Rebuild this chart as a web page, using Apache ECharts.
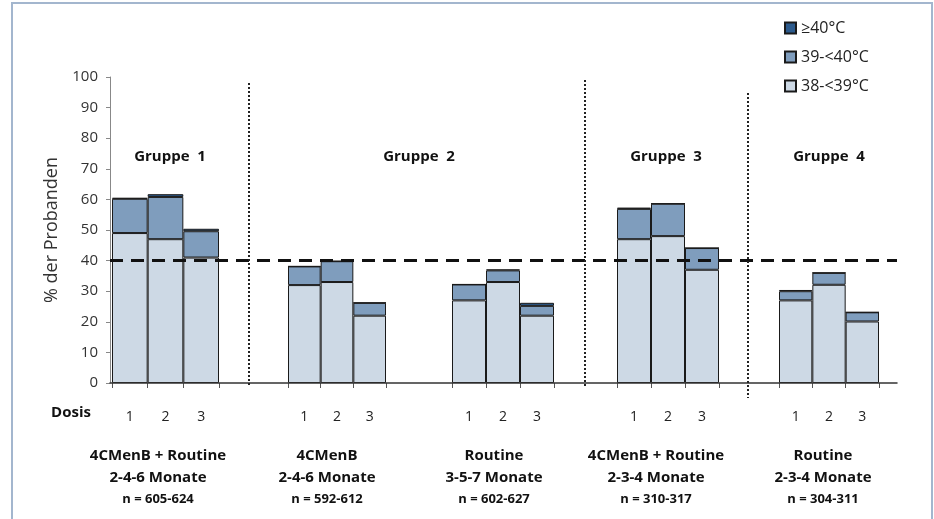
<!DOCTYPE html>
<html>
<head>
<meta charset="utf-8">
<script src="https://cdn.jsdelivr.net/npm/echarts@6/dist/echarts.min.js"></script>
<style>html,body{margin:0;padding:0;background:#fff}#c{width:934px;height:519px}</style>
</head>
<body>
<div id="c"></div>
<script>
// ---- data ----
const doses = ['1', '2', '3'];
const groupTitles = ['Gruppe  1', 'Gruppe  2', 'Gruppe  3', 'Gruppe  4'];
const armLine1 = ['4CMenB + Routine', '4CMenB', 'Routine', '4CMenB + Routine', 'Routine'];
const armLine2 = ['2-4-6 Monate', '2-4-6 Monate', '3-5-7 Monate', '2-3-4 Monate', '2-3-4 Monate'];
const armLine3 = ['n = 605-624', 'n = 592-612', 'n = 602-627', 'n = 310-317', 'n = 304-311'];
const seriesNames = ['38-<39°C', '39-<40°C', '≥40°C'];
const low  = [[49, 47, 41], [32, 33, 22], [27, 33, 22], [47, 48, 37], [27, 32.1, 20.1]];
const mid  = [[11.2, 13.8, 8.6], [6.1, 6.8, 4.2], [5.2, 3.8, 3.2], [9.9, 10.6, 7.1], [3.0, 3.9, 3.0]];
const high = [[0.3, 0.9, 0.8], [0, 0, 0], [0, 0.3, 1.0], [0.4, 0, 0], [0.4, 0, 0]];
const threshold = 40;
const yTicks = [0, 10, 20, 30, 40, 50, 60, 70, 80, 90, 100];

// ---- layout / style ----
const FONT = '"Open Sans", sans-serif';
const colors = ['#cdd9e5', '#7f9dbd', '#2c5a8c'];
const plotTop = 77, plotBottom = 136;
const arms = [
  { left: 112, width: 107 },
  { left: 288, width: 98 },
  { left: 452, width: 102 },
  { left: 617, width: 102 },
  { left: 779, width: 100 }
];
const armCenters = [158, 327, 494, 656, 823];
const titleCenters = [170, 419, 666, 829];

const grids = [{ left: 110, right: 37, top: plotTop, bottom: plotBottom }];
const xAxes = [{
  gridIndex: 0, type: 'category', data: [''],
  axisLine: { show: true, lineStyle: { color: '#333', width: 1.5 } },
  axisTick: { show: false }, axisLabel: { show: false }, z: 5
}];
const yAxes = [{
  gridIndex: 0, type: 'value', min: yTicks[0], max: yTicks[yTicks.length - 1], interval: 10,
  name: '% der Probanden', nameLocation: 'middle', nameGap: 41, nameRotate: 90,
  nameTextStyle: { fontFamily: FONT, fontSize: 18, color: '#333' },
  axisLine: { show: true, lineStyle: { color: '#888' } },
  axisTick: { show: true, length: 4, lineStyle: { color: '#888' } },
  axisLabel: { fontFamily: FONT, fontSize: 15, color: '#333', margin: 12 },
  splitLine: { show: false }
}];
const series = [{
  type: 'line', xAxisIndex: 0, yAxisIndex: 0, data: [], z: 10,
  markLine: {
    silent: true, symbol: 'none', label: { show: false },
    lineStyle: { color: '#111', width: 3, type: [13, 8] },
    data: [{ yAxis: threshold }]
  }
}];

arms.forEach((a, i) => {
  const gi = i + 1;
  grids.push({ left: a.left, width: a.width, top: plotTop, bottom: plotBottom });
  xAxes.push({
    gridIndex: gi, type: 'category', data: doses,
    axisLine: { show: false },
    axisTick: { show: true, length: 5, lineStyle: { color: '#555' } },
    axisLabel: { fontFamily: FONT, fontSize: 14, color: '#222', margin: 27 }
  });
  yAxes.push({ gridIndex: gi, type: 'value', min: 0, max: 100, show: false });
  [low[i], mid[i], high[i]].forEach((vals, k) => {
    series.push({
      name: seriesNames[k], type: 'bar', stack: 'arm' + i,
      xAxisIndex: gi, yAxisIndex: gi, data: vals,
      barCategoryGap: '0%', barGap: '0%',
      itemStyle: { color: colors[k], borderColor: '#1a1a1a', borderWidth: 1 },
      emphasis: { disabled: true }
    });
  });
});

const graphics = [
  { type: 'rect', shape: { x: 12, y: 3, width: 920, height: 620 },
    style: { fill: 'none', stroke: '#a3b6ce', lineWidth: 2 }, z: 0 },
  { type: 'line', shape: { x1: 249, y1: 83, x2: 249, y2: 387 }, style: { stroke: '#222', lineWidth: 2, lineDash: [2, 2] }, z: 20 },
  { type: 'line', shape: { x1: 585, y1: 80, x2: 585, y2: 386 }, style: { stroke: '#222', lineWidth: 2, lineDash: [2, 2] }, z: 20 },
  { type: 'line', shape: { x1: 748, y1: 93, x2: 748, y2: 398 }, style: { stroke: '#222', lineWidth: 2, lineDash: [2, 2] }, z: 20 },
  { type: 'text', x: 71, y: 413, style: { text: 'Dosis', font: 'bold 15px ' + FONT, fill: '#111', align: 'center', verticalAlign: 'middle' } }
];
groupTitles.forEach((t, i) => graphics.push({
  type: 'text', x: titleCenters[i], y: 157,
  style: { text: t, font: 'bold 15px ' + FONT, fill: '#111', align: 'center', verticalAlign: 'middle' }
}));
armCenters.forEach((cx, i) => {
  graphics.push({ type: 'text', x: cx, y: 456, style: { text: armLine1[i], font: 'bold 15px ' + FONT, fill: '#111', align: 'center', verticalAlign: 'middle' } });
  graphics.push({ type: 'text', x: cx, y: 478, style: { text: armLine2[i], font: 'bold 15px ' + FONT, fill: '#111', align: 'center', verticalAlign: 'middle' } });
  graphics.push({ type: 'text', x: cx, y: 499, style: { text: armLine3[i], font: 'bold 13px ' + FONT, fill: '#111', align: 'center', verticalAlign: 'middle' } });
});

const chart = echarts.init(document.getElementById('c'), null, { renderer: 'canvas' });
chart.setOption({
  animation: false,
  backgroundColor: '#fff',
  grid: grids, xAxis: xAxes, yAxis: yAxes, series: series,
  legend: {
    data: ['≥40°C', '39-<40°C', '38-<39°C'],
    orient: 'vertical', left: 779, top: 15,
    itemWidth: 11, itemHeight: 11, itemGap: 13, icon: 'rect',
    textStyle: { fontFamily: FONT, fontSize: 16, color: '#222' }
  },
  graphic: graphics
});
</script>
</body>
</html>
